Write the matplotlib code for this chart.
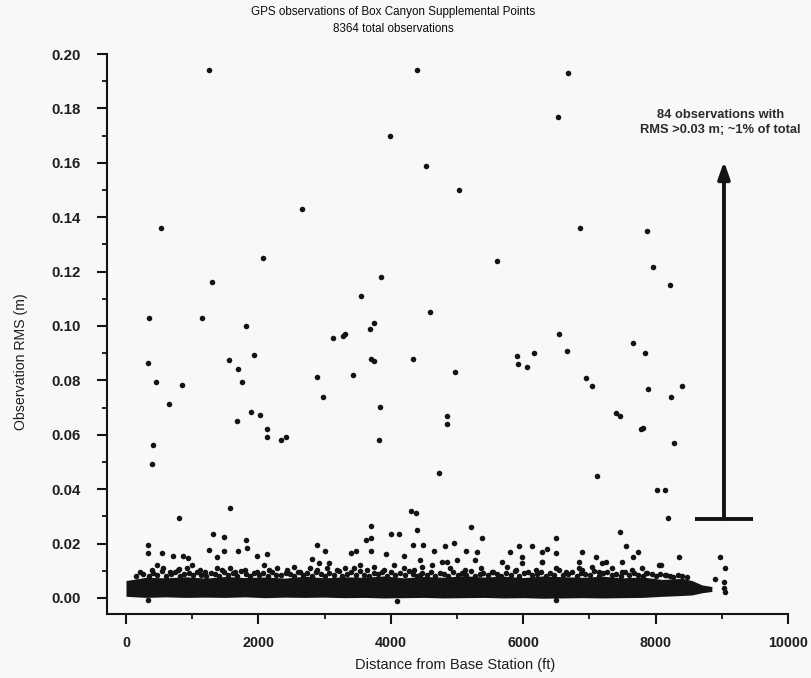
import numpy as np
import matplotlib.pyplot as plt

plt.rcParams['font.family'] = ['Liberation Sans', 'DejaVu Sans']

# ===========================================================================================
# DATA

# Observations with RMS > 0.03 m (the outliers), distance in ft, RMS in m
out_ft = [1260, 4397, 3994, 4538, 2663, 530, 2062, 1296, 3858, 3550, 343, 1150, 1811, 4599,
          3681, 3747, 3121, 3278, 3313, 328, 1926, 1558, 1690, 1745, 449, 852, 656, 1886,
          2027, 1674, 2137, 2123, 2340, 2420, 403, 388, 2885, 2970, 3434, 3707, 3742, 4332,
          3833, 3817, 4851, 4851, 4725, 1578, 802, 4312, 4383, 6672, 6525, 5027, 6864, 7867,
          5609, 7968, 8215, 6540, 4977, 5900, 5920, 6051, 6157, 6661, 7655, 7837, 6944, 7045,
          7887, 8396, 8235, 7407, 7463, 7785, 7806, 8275, 7115, 8028, 8144, 8185]
out_rms = [0.194, 0.194, 0.170, 0.159, 0.143, 0.136, 0.125, 0.116, 0.118, 0.111, 0.103, 0.103,
           0.100, 0.105, 0.099, 0.101, 0.0957, 0.0963, 0.097, 0.0863, 0.0893, 0.0874, 0.0842,
           0.0793, 0.0793, 0.0783, 0.0713, 0.0683, 0.0672, 0.0652, 0.0623, 0.0592, 0.0582,
           0.0592, 0.0563, 0.0494, 0.0811, 0.0740, 0.0821, 0.088, 0.0871, 0.088, 0.0701,
           0.0581, 0.0670, 0.0640, 0.0460, 0.0332, 0.0295, 0.0321, 0.0311, 0.1929, 0.1768,
           0.150, 0.136, 0.1349, 0.124, 0.1218, 0.1149, 0.097, 0.083, 0.0891, 0.0859, 0.0849,
           0.0901, 0.0909, 0.0939, 0.090, 0.0809, 0.0779, 0.077, 0.0779, 0.0739, 0.068, 0.0669,
           0.062, 0.0626, 0.0569, 0.045, 0.0398, 0.0398, 0.0293]

# Scattered observations between ~0.01 and 0.03 m
mid_ft = [328, 338, 1321, 1483, 1811, 1826, 1251, 1483, 1690, 1372, 540, 716, 867, 943, 1977,
          2128, 2885, 3011, 2809, 3707, 3707, 3620, 4009, 4120, 4397, 4337, 4488, 3399, 3480,
          3707, 3933, 4195, 4437, 3061, 2909, 5219, 5381, 4660, 4816, 4952, 5129, 5295, 5941,
          6132, 5799, 6289, 6354, 6500, 6500, 6888, 7095, 7463, 7560, 7735, 7665, 8346, 8088,
          8966, 9047, 4851, 5003, 5986, 6289, 6843, 6843, 7247, 7499, 5682, 802]
mid_rms = [0.0195, 0.0167, 0.0234, 0.0223, 0.0213, 0.0183, 0.0175, 0.0174, 0.0174, 0.015,
           0.0164, 0.0154, 0.0154, 0.0146, 0.0154, 0.016, 0.0194, 0.0174, 0.0142, 0.0264,
           0.0222, 0.0212, 0.0234, 0.0234, 0.025, 0.0194, 0.0194, 0.0164, 0.0174, 0.0173,
           0.0162, 0.0154, 0.014, 0.0128, 0.0128, 0.0261, 0.0219, 0.0173, 0.0192, 0.0202,
           0.0173, 0.017, 0.0191, 0.0191, 0.017, 0.017, 0.0181, 0.0219, 0.0164, 0.017, 0.015,
           0.0241, 0.0191, 0.017, 0.015, 0.015, 0.012, 0.015, 0.0109, 0.0134, 0.014, 0.0152,
           0.0134, 0.0134, 0.0109, 0.0131, 0.0131, 0.0131, 0.0105]

# Observations speckled above the dense band (~0.01-0.013 m)
edge_ft = [388, 464, 565, 665, 792, 918, 993, 1120, 1195, 1372, 1447, 1573, 1649, 1800, 1977,
           2078, 2153, 2279, 2430, 2531, 2632, 2783, 2884, 3036, 3187, 3313, 3439, 3540, 3641,
           3742, 3893, 4044, 4196, 4347, 4473, 4448, 4624, 4775, 4901, 5128, 5279, 5355, 5532,
           5759, 5885, 5986, 6187, 6288, 6490, 6641, 6893, 7045, 7146, 7196, 7347, 7498, 7650,
           7801, 7851, 8053, 8154, 8896, 9040, 9040, 9051, 333, 6490, 4100]
edge_rms = [0.0103, 0.0121, 0.0109, 0.0097, 0.0103, 0.0109, 0.0121, 0.0103, 0.0097, 0.0109,
            0.0103, 0.0109, 0.0097, 0.0103, 0.0097, 0.0121, 0.0103, 0.0109, 0.0103, 0.0115,
            0.0097, 0.0109, 0.0103, 0.0109, 0.0103, 0.0109, 0.0109, 0.0121, 0.0103, 0.0115,
            0.0103, 0.0121, 0.0109, 0.0103, 0.0115, 0.0084, 0.0121, 0.0133, 0.0109, 0.0103,
            0.0140, 0.0109, 0.0097, 0.0115, 0.0103, 0.0127, 0.0103, 0.0133, 0.0109, 0.0097,
            0.0103, 0.0115, 0.0097, 0.0127, 0.0109, 0.0097, 0.0103, 0.0109, 0.0091, 0.0121,
            0.0084, 0.0069, 0.0060, 0.0036, 0.0021, -0.0007, -0.0007, -0.0010]

# Observations crowding the top of the dense band (~0.008-0.010 m)
top_ft = [150, 210, 260, 340, 410, 470, 540, 610, 680, 740,
          810, 880, 950, 1010, 1080, 1140, 1210, 1280, 1340, 1410,
          1480, 1540, 1610, 1670, 1740, 1810, 1870, 1940, 2010, 2070,
          2140, 2210, 2270, 2340, 2410, 2470, 2540, 2600, 2670, 2740,
          2810, 2870, 2940, 3000, 3070, 3140, 3210, 3270, 3340, 3400,
          3470, 3540, 3600, 3670, 3740, 3810, 3870, 3940, 4000, 4070,
          4140, 4210, 4270, 4340, 4400, 4470, 4540, 4600, 4670, 4740,
          4800, 4870, 4940, 5010, 5070, 5140, 5210, 5270, 5340, 5400,
          5470, 5540, 5600, 5670, 5740, 5810, 5870, 5940, 6010, 6070,
          6140, 6210, 6270, 6340, 6400, 6470, 6540, 6600, 6670, 6740,
          6810, 6870, 6940, 7010, 7070, 7140, 7210, 7270, 7340, 7400,
          7470, 7540, 7600, 7670, 7740, 7810, 7870, 7940, 8010, 8070,
          8140, 8210, 8270, 8340, 8400, 8470]
top_rms = [0.0082, 0.0094, 0.0087, 0.0079, 0.0091, 0.0084, 0.0098, 0.0081, 0.0089, 0.0095,
           0.0080, 0.0088, 0.0093, 0.0083, 0.0097, 0.0086, 0.0081, 0.0092, 0.0088, 0.0079,
           0.0095, 0.0084, 0.0090, 0.0082, 0.0099, 0.0087, 0.0080, 0.0093, 0.0085, 0.0091,
           0.0079, 0.0096, 0.0086, 0.0083, 0.0092, 0.0088, 0.0080, 0.0097, 0.0084, 0.0090,
           0.0081, 0.0094, 0.0087, 0.0079, 0.0093, 0.0085, 0.0098, 0.0082, 0.0089, 0.0095,
           0.0083, 0.0100, 0.0086, 0.0081, 0.0092, 0.0088, 0.0097, 0.0080, 0.0094, 0.0086,
           0.0090, 0.0083, 0.0099, 0.0087, 0.0081, 0.0093, 0.0085, 0.0096, 0.0082, 0.0090,
           0.0088, 0.0079, 0.0095, 0.0084, 0.0091, 0.0086, 0.0098, 0.0081, 0.0089, 0.0093,
           0.0083, 0.0096, 0.0087, 0.0080, 0.0092, 0.0085, 0.0099, 0.0082, 0.0090, 0.0094,
           0.0084, 0.0088, 0.0097, 0.0081, 0.0093, 0.0086, 0.0101, 0.0083, 0.0089, 0.0095,
           0.0080, 0.0092, 0.0087, 0.0084, 0.0098, 0.0082, 0.0090, 0.0094, 0.0085, 0.0088,
           0.0079, 0.0096, 0.0083, 0.0091, 0.0086, 0.0081, 0.0093, 0.0087, 0.0080, 0.0089,
           0.0084, 0.0082, 0.0078, 0.0085, 0.0080, 0.0076]

# Envelope of the solid band of thousands of overlapping observations
band_ft = [0, 150, 300, 600, 900, 1200, 1500, 1800, 2100, 2400, 2700, 3000, 3300, 3600, 3900,
           4200, 4500, 4800, 5100, 5400, 5700, 6000, 6300, 6600, 6900, 7200, 7500, 7800, 8100,
           8400, 8550, 8700, 8850]
band_top = [0.0064, 0.0070, 0.0076, 0.0074, 0.0078, 0.0073, 0.0079, 0.0075, 0.0077, 0.0073,
            0.0080, 0.0074, 0.0078, 0.0076, 0.0081, 0.0074, 0.0079, 0.0076, 0.0082, 0.0077,
            0.0080, 0.0075, 0.0081, 0.0078, 0.0076, 0.0080, 0.0074, 0.0077, 0.0068, 0.0072,
            0.0064, 0.0048, 0.0042]
band_bot = [0.0006, 0.0004, 0.0002, 0.0004, 0.0002, 0.0003, 0.0002, 0.0004, 0.0001, 0.0003,
            0.0002, 0.0003, 0.0001, 0.0002, 0.0000, 0.0001, 0.0002, 0.0000, 0.0001, 0.0002,
            0.0000, 0.0001, -0.0001, 0.0000, 0.0001, 0.0000, 0.0001, 0.0002, 0.0006, 0.0009,
            0.0011, 0.0019, 0.0024]

# ===========================================================================================

ink = '#141414'
bg = '#f8f8f8'

fig = plt.figure(figsize=(8.12, 6.78), dpi=100, facecolor=bg)
ax = fig.add_axes([107 / 812, 1 - 614 / 678, 681 / 812, 560 / 678], facecolor=bg)

# dense band
ax.fill_between(band_ft, band_bot, band_top, color=ink, linewidth=0)

# individual observations
for xs, ys in [(top_ft, top_rms), (edge_ft, edge_rms), (mid_ft, mid_rms), (out_ft, out_rms)]:
    ax.plot(xs, ys, 'o', color=ink, markersize=4.0, markeredgewidth=0, linestyle='none')

# annotation arrow with base bar
ax.annotate('', xy=(9033, 0.1605), xytext=(9033, 0.0292),
            arrowprops=dict(arrowstyle='-|>,head_length=1.0,head_width=0.35',
                            color=ink, lw=2.8, shrinkA=0, shrinkB=0))
ax.plot([8595, 9471], [0.0292, 0.0292], color=ink, lw=2.8, solid_capstyle='butt')
ax.text(8975, 0.1700, '84 observations with\nRMS >0.03 m; ~1% of total', ha='center',
        va='bottom', fontsize=9.3, fontweight='bold', color='#2a2a2a', linespacing=1.25)

ax.set_xlim(-287, 10000)
ax.set_ylim(-0.0059, 0.20)
ax.set_xticks(np.arange(0, 10001, 2000))
ax.set_xticks(np.arange(0, 10001, 1000), minor=True)
ax.set_yticks(np.arange(0, 0.201, 0.02))
ax.set_yticks(np.arange(0, 0.201, 0.01), minor=True)
ax.set_yticklabels(['%.2f' % v for v in np.arange(0, 0.201, 0.02)])

for s in ['top', 'right']:
    ax.spines[s].set_visible(False)
for s in ['left', 'bottom']:
    ax.spines[s].set_linewidth(1.5)
    ax.spines[s].set_color(ink)
ax.tick_params(which='major', direction='out', length=7, width=1.5, color=ink,
               labelsize=10.3, labelcolor='#1e1e1e')
ax.tick_params(axis='y', which='major', pad=12, labelsize=10.8)
ax.tick_params(axis='x', which='major', pad=9)
ax.tick_params(which='minor', direction='out', length=3.5, width=1.3, color=ink)
for lab in ax.get_xticklabels() + ax.get_yticklabels():
    lab.set_fontweight('bold')

fig.text(393 / 812, 1 - 6 / 678, 'GPS observations of Box Canyon Supplemental Points\n8364 total observations',
         ha='center', va='top', fontsize=8.4, color='#0c0c0c', linespacing=1.55)
fig.text(455 / 812, 1 - 665 / 678, 'Distance from Base Station (ft)', ha='center', va='center',
         fontsize=10.5, color='#1e1e1e')
fig.text(21 / 812, 1 - 362 / 678, 'Observation RMS (m)', ha='center', va='center',
         rotation=90, fontsize=10.2, color='#1e1e1e')

fig.savefig('out.png', dpi=100, facecolor=bg)
